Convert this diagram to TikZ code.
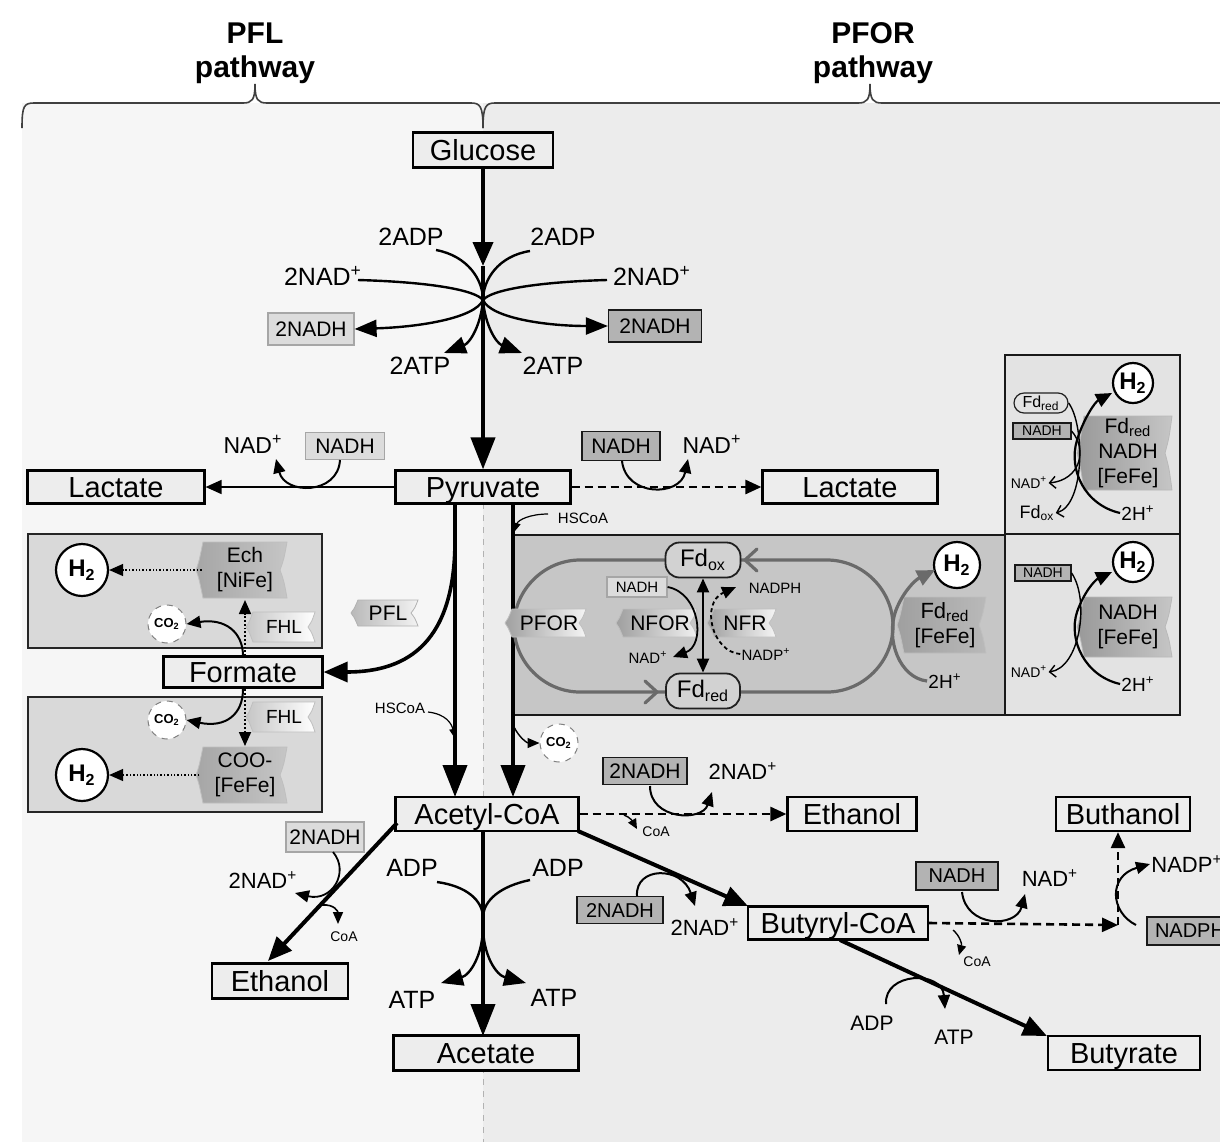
\documentclass[tikz,border=0pt]{standalone}
\usepackage{fontspec}
\setmainfont{Liberation Sans}
\usetikzlibrary{arrows.meta,calc}
\definecolor{bgL}{HTML}{F6F6F6}
\definecolor{bgR}{HTML}{ECECEC}
\definecolor{pforbg}{HTML}{C6C6C6}
\definecolor{rpanel}{HTML}{E3E3E3}
\definecolor{lpanel}{HTML}{D9D9D9}
\definecolor{metfill}{HTML}{EDEDED}
\definecolor{nadhL}{HTML}{DCDCDC}
\definecolor{nadhD}{HTML}{B3B3B3}
\definecolor{loopc}{HTML}{6A6A6A}
\newcommand\enz[7]{%
  \path[#6] (#2-#4,#3-#5) -- (#2+#4,#3-#5) .. controls (#2+#4-3,#3-#5*0.4) .. (#2+#4-7,#3) .. controls (#2+#4-3,#3+#5*0.4) .. (#2+#4,#3+#5) -- (#2-#4,#3+#5) .. controls (#2-#4-4,#3+#5*0.3) .. (#2-#4-7,#3) .. controls (#2-#4-4,#3-#5*0.3) .. (#2-#4,#3-#5) -- cycle;
  \node[enzt] (#1) at (#2,#3) {#7};}
\newcommand\fs[1]{\fontsize{#1}{#1}\selectfont}
\begin{document}
\begin{tikzpicture}[x=0.5pt,y=-0.5pt,
  met/.style={draw=black,line width=1.1pt,fill=metfill,inner sep=0pt,text height=10.4pt,text depth=0pt,font=\fs{14.5}},
  cof/.style={inner sep=0.5pt,font=\fs{12.5}},
  nadl/.style={draw=gray!70,line width=0.6pt,fill=nadhL,inner sep=0pt,font=\fs{10.5}},
  nadd/.style={draw=gray!20!black,line width=0.6pt,fill=nadhD,inner sep=0pt,font=\fs{10.5}},
  sm/.style={inner sep=0.5pt,font=\fs{7.5}},
  htwo/.style={circle,draw=black,line width=1.1pt,fill=white,inner sep=0pt,minimum size=#1,font=\bfseries\fs{12}},
  cotwo/.style={circle,draw=gray,dashed,line width=0.5pt,fill=white,inner sep=0pt,minimum size=19pt,font=\bfseries\fs{6.5}},
  enzt/.style={align=center,inner sep=0pt,font=\fontsize{10.5}{12.5}\selectfont},
  fdbox/.style={rounded corners=7pt,draw=gray!25!black,line width=0.9pt,fill=gray!35,inner sep=0pt,font=\fs{12}},
  head/.style={anchor=base,inner sep=0pt,font=\bfseries\fs{15}},
  bigA/.style={line width=2pt,-{Triangle[length=16pt,width=12pt]}},
  medA/.style={line width=2pt,-{Triangle[length=12pt,width=10pt]}},
  fan/.style={line width=1.2pt},
  fanA/.style={line width=1.2pt,-{Triangle[length=11pt,width=8.5pt]}},
  thinA/.style={line width=0.8pt,-{Triangle[length=8pt,width=7pt]}},
  cofA/.style={line width=1pt,-{Triangle[length=7pt,width=6pt]}},
  tinyA/.style={line width=0.6pt,-{Triangle[length=4pt,width=3.5pt]}},
  openA/.style={line width=0.7pt,-{Straight Barb[length=3pt,width=6pt]}},
  dashA/.style={line width=1.3pt,dash pattern=on 4pt off 2.5pt,-{Triangle[length=8pt,width=7pt]}},
  dotA/.style={line width=0.7pt,densely dotted,-{Triangle[length=7pt,width=6pt]}},
  loopL/.style={draw=loopc,line width=1.6pt},
  brace/.style={draw=gray!50!black,line width=0.8pt}
]
\useasboundingbox (0,0) rectangle (1220,1142);
\fill[white] (0,0) rectangle (1220,1142);
\fill[bgL] (22,103) rectangle (483,1142);
\fill[bgR] (483,103) rectangle (1220,1142);

% ---- headings and braces
\node[head] (hpfl1) at (255,43) {PFL};
\node[head] (hpfl2) at (255,77) {pathway};
\node[head] (hpfor1) at (873,43) {PFOR};
\node[head] (hpfor2) at (873,77) {pathway};
\draw[brace] (22,128) .. controls (22,106) and (24,103) .. (34,103) -- (243,103) .. controls (252,103) and (255,100) .. (255,84) .. controls (255,100) and (258,103) .. (267,103) -- (471,103) .. controls (480,103) and (483,106) .. (483,128);
\draw[brace] (483,128) .. controls (483,106) and (486,103) .. (495,103) -- (858,103) .. controls (867,103) and (870,100) .. (870,84) .. controls (870,100) and (873,103) .. (882,103) -- (1220,103);

% ---- panels
\draw[draw=gray!30!black,line width=0.8pt,fill=lpanel] (28,534) rectangle (322,648);
\draw[draw=gray!30!black,line width=0.8pt,fill=lpanel] (28,697) rectangle (322,812);
\draw[draw=gray!20!black,line width=0.9pt,fill=pforbg] (513,535) rectangle (1005,715);
\draw[draw=gray!20!black,line width=0.9pt,fill=rpanel] (1005,355) rectangle (1180,534);
\draw[draw=gray!20!black,line width=0.9pt,fill=rpanel] (1005,534) rectangle (1180,715);
\draw[gray!60,dashed,line width=0.5pt] (483,503) -- (483,1142);

% ---- metabolites
\node[met,minimum width=70pt,minimum height=17.5pt] (glucose) at (483,150) {Glucose};
\node[met,minimum width=87.5pt,minimum height=16.5pt] (pyruvate) at (483,487) {Pyruvate};
\node[met,minimum width=88.5pt,minimum height=16.5pt] (lactL) at (116,487) {Lactate};
\node[met,minimum width=87.5pt,minimum height=16.5pt] (lactR) at (850,487) {Lactate};
\node[met,minimum width=79.5pt,minimum height=15.5pt] (formate) at (243,672) {Formate};
\node[met,minimum width=91.5pt,minimum height=17pt] (acetyl) at (487,814) {Acetyl-CoA};
\node[met,minimum width=68pt,minimum height=17.5pt] (ethL) at (280,981) {Ethanol};
\node[met,minimum width=92.5pt,minimum height=17.5pt] (acetate) at (486,1053) {Acetate};
\node[met,minimum width=64.5pt,minimum height=17pt] (ethR) at (852,814) {Ethanol};
\node[met,minimum width=67pt,minimum height=17pt] (buthanol) at (1123,814) {Buthanol};
\node[met,minimum width=90pt,minimum height=16.5pt] (butyryl) at (838,923) {Butyryl-CoA};
\node[met,minimum width=76pt,minimum height=17pt] (butyrate) at (1124,1053) {Butyrate};

% ---- glycolysis
\coordinate (gmid) at (483,266);
\coordinate (fc) at (483,300);
\draw[medA] (glucose.south) -- (gmid);
\draw[bigA] (gmid) -- (pyruvate.north);
\node[cof] (adpG1) at (411,237) {2ADP};
\node[cof] (adpG2) at (563,237) {2ADP};
\node[cof] (nadG1) at (323,276) {2NAD\textsuperscript{+}};
\node[cof] (nadG2) at (652,276) {2NAD\textsuperscript{+}};
\node[nadl,minimum width=43pt,minimum height=16pt] (nadhG1) at (311,329) {2NADH};
\node[nadd,minimum width=46.5pt,minimum height=16pt] (nadhG2) at (655,326) {2NADH};
\node[cof] (atpG1) at (420,366) {2ATP};
\node[cof] (atpG2) at (553,366) {2ATP};
\coordinate (atpG1t) at (444,353);
\coordinate (atpG2t) at (522,353);
\draw[fan] (436,250) .. controls (468,256) and (483,280) .. (fc);
\draw[fan] (530,251) .. controls (498,256) and (483,280) .. (fc);
\draw[fan] (358,280) .. controls (430,282) and (475,290) .. (fc);
\draw[fan] (607,280) .. controls (536,282) and (491,290) .. (fc);
\draw[fanA] (fc) .. controls (475,318) and (420,327) .. (nadhG1.east);
\draw[fanA] (fc) .. controls (491,318) and (546,326) .. (nadhG2.west);
\draw[fanA] (fc) .. controls (481,325) and (470,343) .. (atpG1t);
\draw[fanA] (fc) .. controls (485,325) and (496,343) .. (atpG2t);

% ---- pyruvate to lactate
\draw[thinA] (pyruvate.west) -- (lactL.east);
\node[nadl,minimum width=39.5pt,minimum height=13.5pt] (nadhP1) at (345,446) {NADH};
\node[cof,font=\fs{11.5}] (nadP1) at (253,444) {NAD\textsuperscript{+}};
\draw[cofA] (340,460) .. controls (338,495) and (285,495) .. (276,459);
\draw[dashA] (pyruvate.east) -- (lactR.west);
\node[nadd,minimum width=39pt,minimum height=14.5pt] (nadhP2) at (621,446) {NADH};
\node[cof,font=\fs{11.5}] (nadP2) at (712,444) {NAD\textsuperscript{+}};
\draw[cofA] (622,461) .. controls (626,497) and (680,497) .. (688,459);

% ---- pyruvate to acetyl-CoA
\coordinate (pyL) at (455,503);
\coordinate (pyR) at (513,503);
\coordinate (acL) at (455,797);
\coordinate (acR) at (513,797);
\draw[bigA] (pyL) -- (acL);
\draw[bigA] (pyR) -- (acR);
\node[sm] (hscoa1) at (583,518) {HSCoA};
\draw[tinyA] (548,514) .. controls (530,514) and (518,520) .. (515,531);
\node[sm] (hscoa2) at (400,708) {HSCoA};
\draw[tinyA] (428,712) .. controls (446,714) and (452,724) .. (454,737);
\node[cotwo] (co2P) at (559,743) {CO\textsubscript{2}};
\draw[line width=0.7pt,-{Triangle[length=6pt,width=5pt]}] (514,727) .. controls (520,739) and (528,743) .. (co2P.west);
\coordinate (pflS) at (455,540);
\draw[line width=1.8pt,-{Triangle[length=12pt,width=10pt]}] (pflS) .. controls (455,640) and (410,672) .. (formate.east);
\enz{pfl}{388}{613}{30}{13}{left color=gray!55,right color=gray!10,draw=gray!60}{\fs{10.5}PFL}

% ---- formate panels
\node[htwo=26pt] (h2A) at (82,570) {H\textsubscript{2}};
\node[htwo=26pt] (h2B) at (82,775) {H\textsubscript{2}};
\enz{ech}{245}{570}{42}{28}{left color=gray!70,right color=gray!45,draw=gray!50}{Ech\\{}[NiFe]}
\enz{coo}{245}{775}{42}{28}{left color=gray!70,right color=gray!45,draw=gray!50}{COO-\\{}[FeFe]}
\enz{fhlA}{284}{627}{31}{15}{left color=gray!45,right color=white,draw=gray!50}{\fs{9.5}FHL}
\enz{fhlB}{284}{717}{31}{15}{left color=gray!45,right color=white,draw=gray!50}{\fs{9.5}FHL}
\node[cotwo] (co2A) at (167,624) {CO\textsubscript{2}};
\node[cotwo] (co2B) at (167,720) {CO\textsubscript{2}};
\draw[dotA] (ech.west) ++(-15,0) -- (h2A.east);
\draw[dotA] (coo.west) ++(-15,0) -- (h2B.east);
\draw[line width=0.9pt,densely dotted,-{Triangle[length=7pt,width=6pt]}] (245,656) -- (245,600);
\draw[line width=0.9pt,densely dotted,-{Triangle[length=7pt,width=6pt]}] (245,689) -- (245,746);
\draw[cofA] (243,656) .. controls (243,632) and (225,618) .. (co2A.east);
\draw[cofA] (243,689) .. controls (243,715) and (225,728) .. (co2B.east);

% ---- PFOR loop
\draw[loopL] (580,560) -- (827,560) .. controls (863,560) and (893,590) .. (893,626) .. controls (893,662) and (863,692) .. (827,692) -- (580,692) .. controls (544,692) and (514,662) .. (514,626) .. controls (514,590) and (544,560) .. (580,560);
\draw[loopL,line cap=round] (757,549) -- (745,560) -- (757,571);
\draw[loopL,line cap=round] (645,681) -- (657,692) -- (645,703);
\node[fdbox,minimum width=37.5pt,minimum height=17.5pt] (fdox) at (703,560) {Fd\textsubscript{ox}};
\node[fdbox,minimum width=37pt,minimum height=17.5pt] (fdred) at (703,691) {Fd\textsubscript{red}};
\enz{pfor}{549}{623}{37}{14}{left color=gray!75,right color=gray!8,draw=gray!50}{PFOR}
\enz{nfor}{660}{623}{37}{14}{left color=gray!75,right color=gray!12,draw=gray!50}{NFOR}
\enz{nfr}{745}{623}{31}{14}{left color=gray!75,right color=gray!8,draw=gray!50}{NFR}
\node[nadl,minimum width=30pt,minimum height=10pt,font=\fs{7.5}] (nadhF) at (637,587) {NADH};
\node[sm] (nadphF) at (775,588) {NADPH};
\node[sm] (nadF) at (648,657) {NAD\textsuperscript{+}};
\node[sm] (nadpF) at (766,654) {NADP\textsuperscript{+}};
\draw[line width=1.1pt,{Triangle[length=7pt,width=6pt]}-{Triangle[length=7pt,width=6pt]}] (fdox.south) -- (fdred.north);
\draw[cofA,line width=0.9pt] (nadhF.east) .. controls (700,593) and (706,645) .. (673,657);
\draw[line width=0.9pt,dash pattern=on 2pt off 1.5pt,-{Triangle[length=7pt,width=6pt]}] (nadpF.west) .. controls (712,652) and (700,603) .. (736,587);
\node[htwo=23pt] (h2P) at (957,565) {H\textsubscript{2}};
\enz{fdfe}{945}{625}{41}{28}{left color=gray!75,right color=gray!55,draw=gray!50}{\fontsize{11}{14}\selectfont Fd\textsubscript{red}\\{}[FeFe]}
\node[cof,font=\fs{9.5}] (h2pP) at (945,681) {2H\textsuperscript{+}};
\draw[draw=loopc,line width=1.6pt,-{Triangle[length=9pt,width=8pt]}] (h2pP.west) .. controls (900,678) and (885,640) .. (896,610) .. controls (903,592) and (915,580) .. (935,570);

% ---- right panels
\node[htwo=20pt] (h2R1) at (1133,383) {H\textsubscript{2}};
\node[htwo=20pt] (h2R2) at (1133,562) {H\textsubscript{2}};
\node[fdbox,fill=rpanel,rounded corners=5pt,line width=0.6pt,minimum width=27pt,minimum height=10pt,font=\fs{8}] (fdR) at (1041,403) {Fd\textsubscript{red}};
\node[nadd,minimum width=29pt,minimum height=8pt,font=\fs{7}] (nadhR1) at (1042,431) {NADH};
\node[nadd,minimum width=28pt,minimum height=8pt,font=\fs{7}] (nadhR2) at (1043,573) {NADH};
\enz{tagR1}{1128}{453}{44}{37}{left color=gray!80,right color=gray!45,draw=gray!55}{Fd\textsubscript{red}\\NADH\\{}[FeFe]}
\enz{tagR2}{1128}{627}{44}{30}{left color=gray!80,right color=gray!45,draw=gray!55}{NADH\\{}[FeFe]}
\node[sm,font=\fs{7}] (nadR1) at (1029,483) {NAD\textsuperscript{+}};
\node[sm,font=\fs{9}] (fdoxR) at (1037,513) {Fd\textsubscript{ox}};
\node[cof,font=\fs{9.5}] (h2pR1) at (1138,513) {2H\textsuperscript{+}};
\node[sm,font=\fs{7}] (nadR2) at (1029,672) {NAD\textsuperscript{+}};
\node[cof,font=\fs{9.5}] (h2pR2) at (1138,684) {2H\textsuperscript{+}};
\draw[line width=1.1pt,-{Triangle[length=8pt,width=7pt]}] (h2pR1.west) .. controls (1085,505) and (1068,470) .. (1077,440) .. controls (1084,418) and (1095,402) .. (1112,393);
\draw[line width=1.1pt,-{Triangle[length=8pt,width=7pt]}] (h2pR2.west) .. controls (1085,676) and (1068,640) .. (1077,612) .. controls (1084,592) and (1095,580) .. (1112,572);
\draw[openA] (fdR.east) .. controls (1085,425) and (1085,505) .. (fdoxR.east);
\draw[openA] (nadhR1.east) .. controls (1088,450) and (1080,480) .. (nadR1.east);
\draw[openA] (nadhR2.east) .. controls (1090,600) and (1080,668) .. (nadR2.east);

% ---- acetyl-CoA to acetate
\coordinate (acM) at (483,831);
\coordinate (acetT) at (483,1036);
\coordinate (afc1) at (483,918);
\coordinate (afc2) at (483,926);
\draw[bigA] (acM) -- (acetT);
\node[cof] (adpA1) at (412,868) {ADP};
\node[cof] (adpA2) at (558,868) {ADP};
\node[cof] (atpA1) at (412,1000) {ATP};
\node[cof] (atpA2) at (554,998) {ATP};
\coordinate (atpA1t) at (441,983);
\coordinate (atpA2t) at (526,983);
\draw[fan] (437,882) .. controls (466,886) and (483,900) .. (afc1);
\draw[fan] (530,880) .. controls (501,886) and (483,900) .. (afc1);
\draw[fanA] (afc2) .. controls (483,955) and (470,975) .. (atpA1t);
\draw[fanA] (afc2) .. controls (483,955) and (496,975) .. (atpA2t);

% ---- acetyl-CoA to ethanol (left)
\coordinate (acW) at (397,823);
\coordinate (ethLt) at (268,961);
\draw[medA] (acW) -- (ethLt);
\node[nadl,minimum width=39pt,minimum height=15pt] (nadhE1) at (325,837) {2NADH};
\node[cof,font=\fs{11}] (nadE1) at (263,880) {2NAD\textsuperscript{+}};
\node[sm,font=\fs{7}] (coaE1) at (344,937) {CoA};
\draw[cofA,line width=0.9pt] (333,852) .. controls (350,872) and (332,902) .. (295,893);
\draw[tinyA,line width=0.8pt,-{Triangle[length=6pt,width=5pt]}] (322,905) .. controls (335,904) and (338,912) .. (338,924);

% ---- acetyl-CoA to ethanol (right)
\draw[dashA] (acetyl.east) -- (ethR.west);
\node[nadd,minimum width=42pt,minimum height=13.5pt] (nadhE2) at (645,771) {2NADH};
\node[cof,font=\fs{11}] (nadE2) at (743,771) {2NAD\textsuperscript{+}};
\node[sm,font=\fs{7}] (coaE2) at (656,832) {CoA};
\draw[cofA] (650,786) .. controls (650,820) and (702,822) .. (712,792);
\draw[tinyA,line width=0.7pt,-{Triangle[length=5pt,width=4.5pt]}] (624,815) .. controls (630,817) and (633,822) .. (637,829);

% ---- acetyl-CoA to butyryl-CoA
\coordinate (acSE) at (578,831);
\coordinate (butT) at (748,906);
\draw[medA] (acSE) -- (butT);
\node[nadd,minimum width=43pt,minimum height=13.5pt,font=\fs{10}] (nadhB1) at (620,910) {2NADH};
\node[cof,font=\fs{11}] (nadB1) at (705,927) {2NAD\textsuperscript{+}};
\draw[cofA] (637,896) .. controls (635,866) and (682,866) .. (695,906);

% ---- butyryl-CoA to buthanol
\coordinate (bcorner) at (1118,925);
\draw[dashA] (butyryl.east) -- (bcorner);
\draw[dashA] (bcorner) -- (buthanol.south -| bcorner);
\node[nadd,minimum width=41pt,minimum height=14pt,font=\fs{10}] (nadhB2) at (957,876) {NADH};
\node[cof,font=\fs{11}] (nadB2) at (1050,878) {NAD\textsuperscript{+}};
\node[sm,font=\fs{7}] (coaB) at (977,962) {CoA};
\draw[cofA] (962,892) .. controls (966,928) and (1016,928) .. (1025,894);
\draw[tinyA,line width=0.7pt,-{Triangle[length=5pt,width=4.5pt]}] (953,930) .. controls (960,936) and (962,944) .. (959,955);
\node[nadd,minimum width=43pt,minimum height=14pt,font=\fs{10}] (nadphB) at (1190,931) {NADPH};
\node[cof,font=\fs{11},anchor=west] (nadpB) at (1150,864) {NADP\textsuperscript{+}};
\draw[cofA] (1136,925) .. controls (1110,912) and (1108,876) .. (nadpB.west);

% ---- butyryl-CoA to butyrate
\coordinate (butS) at (840,940);
\coordinate (butyT) at (1047,1036);
\draw[medA] (butS) -- (butyT);
\node[cof,font=\fs{10.5}] (adpB) at (872,1023) {ADP};
\node[cof,font=\fs{10.5}] (atpB) at (954,1037) {ATP};
\draw[cofA] (886,1004) .. controls (884,972) and (942,970) .. (945,1009);
\end{tikzpicture}
\end{document}
